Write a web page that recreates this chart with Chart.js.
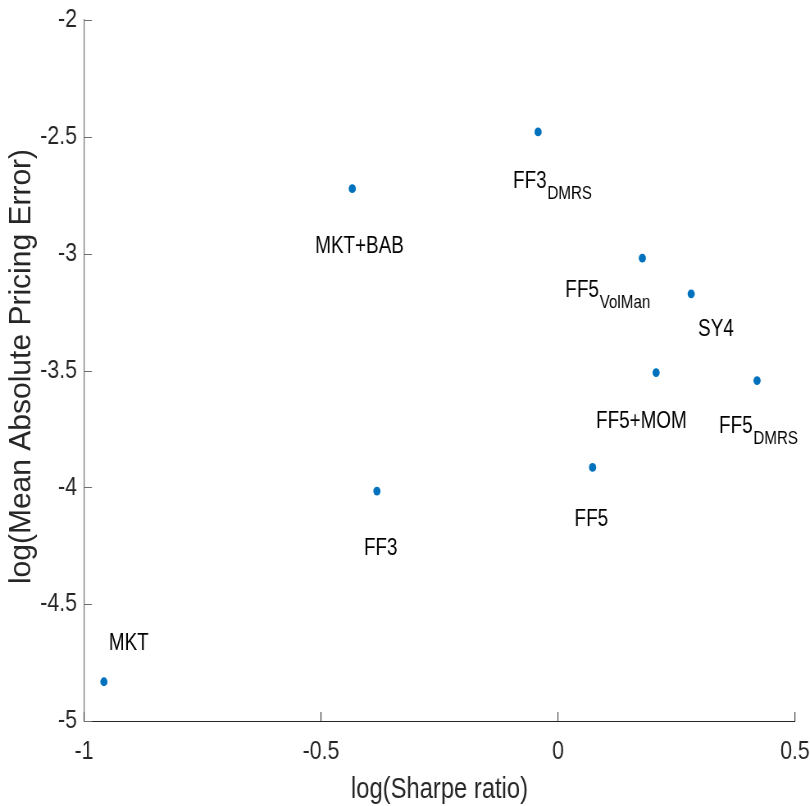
<!DOCTYPE html>
<html>
<head>
<meta charset="utf-8">
<script src="https://cdn.jsdelivr.net/npm/chart.js@4.4.1/dist/chart.umd.min.js"></script>
<style>
  html, body { margin: 0; padding: 0; background: #fff; overflow: hidden; }
  /* drawn wide, then condensed horizontally like the exported figure */
  #wrap { width: 988px; height: 806px; transform: scaleX(0.8198); transform-origin: 0 0; }
</style>
</head>
<body>
<div id="wrap"><canvas id="frontier"></canvas></div>
<script>
// Factor models: log Sharpe ratio vs log mean absolute pricing error
const modelNames = ['MKT', 'FF3', 'MKT+BAB', 'FF3', 'FF5', 'FF5+MOM', 'FF5', 'FF5', 'SY4'];
const modelSubs = ['', '', '', 'DMRS', '', '', 'VolMan', 'DMRS', ''];
const logSharpe = [-0.958, -0.382, -0.434, -0.042, 0.073, 0.207, 0.178, 0.420, 0.281];
const logPricingError = [-4.832, -4.016, -2.722, -2.479, -3.915, -3.509, -3.019, -3.543, -3.172];

const xTicks = [-1, -0.5, 0, 0.5];
const yTicks = [-5, -4.5, -4, -3.5, -3, -2.5, -2];

const SX = 0.8198; // horizontal condensing applied by the wrapper

// label placement relative to each marker, in screen pixels
const labelShift = [[5, -32], [-13, 64], [-37, 64], [-25, 56], [-18, 59], [-60, 55], [-77, 39], [-38, 52], [7, 42]];

const FONT = '"Liberation Sans", Arial, sans-serif';
const axisColor = '#262626';
const yTitle = 'log(Mean Absolute Pricing Error)';

// MATLAB-style inward tick marks
const inwardTicks = {
    id: 'inwardTicks',
    afterDraw(chart) {
        const ctx = chart.ctx;
        const xs = chart.scales.x, ys = chart.scales.y;
        const area = chart.chartArea;
        ctx.save();
        ctx.lineWidth = 1;
        ctx.strokeStyle = axisColor;
        xs.ticks.forEach(t => {
            const px = xs.getPixelForValue(t.value);
            ctx.beginPath();
            ctx.moveTo(px, area.bottom);
            ctx.lineTo(px, area.bottom - 9);
            ctx.stroke();
        });
        ctx.strokeStyle = '#6e6e6e';
        ys.ticks.forEach(t => {
            const py = Math.round(ys.getPixelForValue(t.value)) + 0.5;
            ctx.beginPath();
            ctx.moveTo(area.left, py);
            ctx.lineTo(area.left + 8 / SX, py);
            ctx.stroke();
        });
        ctx.restore();
    }
};

// y axis title, kept at normal width after the condensing
const sideTitle = {
    id: 'sideTitle',
    afterDraw(chart) {
        const ctx = chart.ctx;
        const area = chart.chartArea;
        ctx.save();
        ctx.translate(22 / SX, (area.top + area.bottom) / 2 - 4);
        ctx.scale(1 / SX, 1);
        ctx.rotate(-Math.PI / 2);
        ctx.font = '30px ' + FONT;
        ctx.fillStyle = axisColor;
        ctx.textAlign = 'center';
        ctx.textBaseline = 'middle';
        ctx.fillText(yTitle, 0, 0);
        ctx.restore();
    }
};

// model names with subscripts next to the points
const modelLabels = {
    id: 'modelLabels',
    afterDatasetsDraw(chart) {
        const ctx = chart.ctx;
        const pts = chart.getDatasetMeta(0).data;
        ctx.save();
        ctx.fillStyle = '#000';
        ctx.textBaseline = 'alphabetic';
        ctx.textAlign = 'left';
        pts.forEach((p, i) => {
            const x = p.x + labelShift[i][0] / SX;
            const y = p.y + labelShift[i][1];
            ctx.font = '23px ' + FONT;
            ctx.fillText(modelNames[i], x, y);
            if (modelSubs[i]) {
                const w = ctx.measureText(modelNames[i]).width;
                ctx.font = '18.5px ' + FONT;
                ctx.fillText(modelSubs[i], x + w + 1, y + 11);
            }
        });
        ctx.restore();
    }
};

const points = logSharpe.map((v, i) => ({ x: v, y: logPricingError[i] }));

new Chart(document.getElementById('frontier'), {
    type: 'scatter',
    data: {
        datasets: [{
            data: points,
            backgroundColor: '#0072BD',
            borderColor: '#0072BD',
            borderWidth: 0,
            pointRadius: 4.4,
            pointHoverRadius: 4.4
        }]
    },
    options: {
        responsive: true,
        maintainAspectRatio: false,
        animation: false,
        events: [],
        layout: { padding: { left: 0, right: 15 / SX, top: 20, bottom: 0 } },
        plugins: {
            legend: { display: false },
            tooltip: { enabled: false }
        },
        scales: {
            x: {
                type: 'linear',
                min: -1,
                max: 0.5,
                afterBuildTicks: s => { s.ticks = xTicks.map(v => ({ value: v })); },
                afterFit: s => { s.height = 85; s.paddingLeft = 0; s.paddingRight = 0; },
                grid: { display: false, drawTicks: false },
                border: { display: true, color: axisColor, width: 1 },
                ticks: {
                    padding: 15,
                    color: axisColor,
                    font: { family: FONT, size: 26, lineHeight: 1.2 },
                    maxRotation: 0,
                    callback: v => String(v)
                },
                title: {
                    display: true,
                    text: 'log(Sharpe ratio)',
                    color: axisColor,
                    font: { family: FONT, size: 29, lineHeight: 1 },
                    padding: { top: 0, bottom: 2 }
                }
            },
            y: {
                type: 'linear',
                min: -5,
                max: -2,
                afterBuildTicks: s => { s.ticks = yTicks.map(v => ({ value: v })); },
                afterFit: s => { s.width = 84 / SX; s.paddingTop = 0; s.paddingBottom = 0; },
                grid: { display: false, drawTicks: false },
                border: { display: true, color: '#6e6e6e', width: 1.2 },
                ticks: {
                    padding: 7 / SX,
                    color: axisColor,
                    font: { family: FONT, size: 26, lineHeight: 1.2 },
                    callback: v => String(v)
                },
                title: { display: false }
            }
        }
    },
    plugins: [inwardTicks, sideTitle, modelLabels]
});
</script>
</body>
</html>
